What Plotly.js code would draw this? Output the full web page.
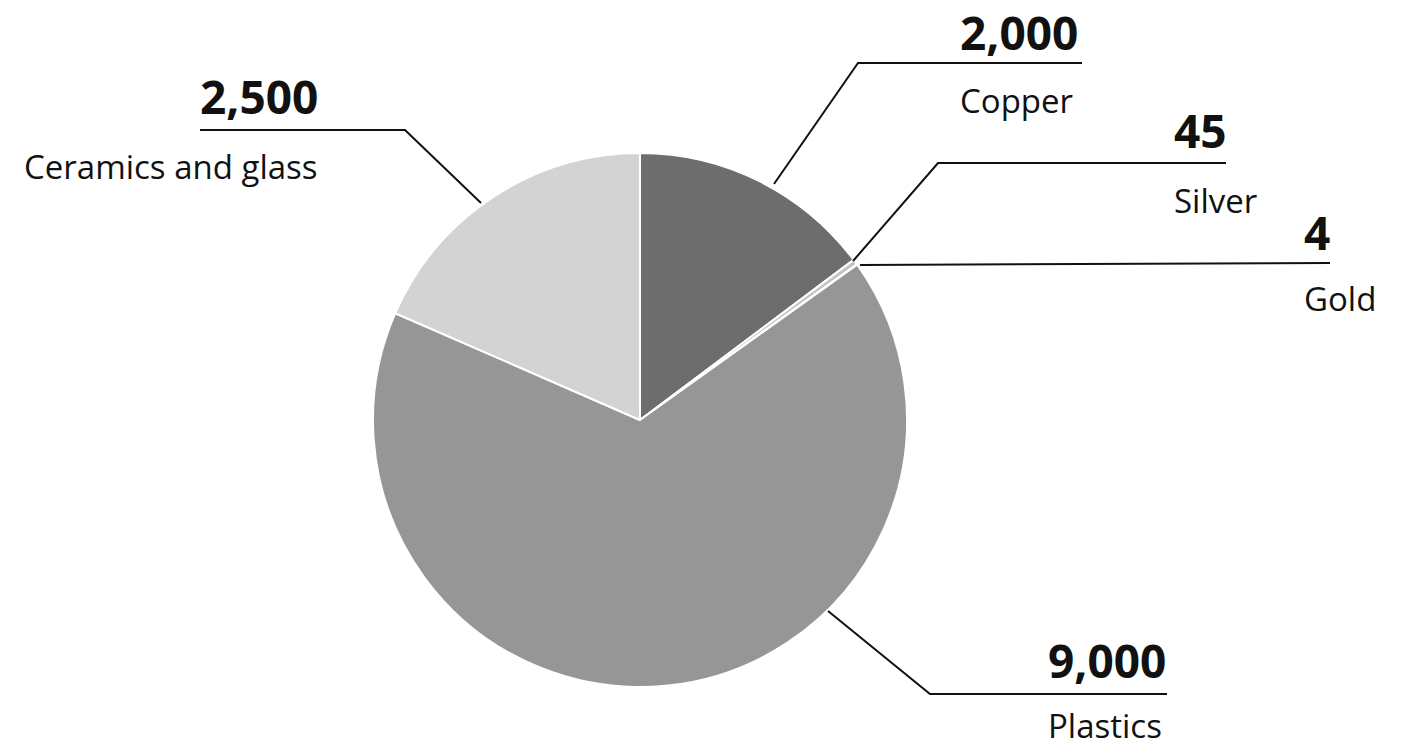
<!DOCTYPE html>
<html>
<head>
<meta charset="utf-8">
<script src="https://cdn.plot.ly/plotly-3.0.1.min.js"></script>
<style>html,body{margin:0;padding:0;background:#fff;}#chart{width:1409px;height:747px;}</style>
</head>
<body>
<div id="chart"></div>
<script>
// Data
const categories = ["Copper", "Silver", "Gold", "Plastics", "Ceramics and glass"];
const values = [2000, 45, 4, 9000, 2500];
const valueLabels = ["2,000", "45", "4", "9,000", "2,500"];
const sliceColors = ["#6d6d6d", "#c4c4c4", "#b0b0b0", "#969696", "#d3d3d3"];

// Layout helpers (pixel -> paper)
const W = 1409, H = 747;
const px = x => x / W;
const py = y => 1 - y / H;

// Leader line geometry per category (pixels): [start, elbow, end], text anchor x, align, value y, label y
const leaders = [
  {pts: [[774, 184], [858, 63], [1082, 63]], tx: 958, anchor: "left", vy: 32, ly: 100},
  {pts: [[853, 261], [938, 163], [1226, 163]], tx: 1172, anchor: "left", vy: 130, ly: 200},
  {pts: [[860, 265], [1330, 263]], tx: 1302, anchor: "left", vy: 232, ly: 298},
  {pts: [[828, 611], [930, 694], [1167, 694]], tx: 1046, anchor: "left", vy: 660, ly: 725},
  {pts: [[481, 203], [405, 130], [200, 130]], tx: 320, anchor: "right", vy: 96, ly: 166}
];

const shapes = leaders.map(l => ({
  type: "path",
  xref: "paper", yref: "paper",
  path: l.pts.map((p, i) => (i ? "L" : "M") + px(p[0]) + "," + py(p[1])).join(" "),
  line: {color: "#111111", width: 2}
}));

const annotations = [];
leaders.forEach((l, i) => {
  annotations.push({
    xref: "paper", yref: "paper", x: px(l.tx), y: py(l.vy),
    xanchor: l.anchor, yanchor: "middle", showarrow: false,
    text: "<b>" + valueLabels[i] + "</b>",
    font: {family: "Open Sans, sans-serif", size: 46, color: "#111111"}
  });
  annotations.push({
    xref: "paper", yref: "paper", x: px(l.tx), y: py(l.ly),
    xanchor: l.anchor, yanchor: "middle", showarrow: false,
    text: categories[i],
    font: {family: "Open Sans, sans-serif", size: 33, color: "#111111"}
  });
});

const trace = {
  type: "pie",
  labels: categories,
  values: values,
  sort: false,
  direction: "clockwise",
  rotation: 0,
  textinfo: "none",
  hoverinfo: "none",
  showlegend: false,
  marker: {colors: sliceColors, line: {color: "#ffffff", width: 2}},
  domain: {x: [px(373), px(907)], y: [py(687), py(153)]}
};

const layout = {
  width: W, height: H,
  margin: {l: 0, r: 0, t: 0, b: 0},
  paper_bgcolor: "#ffffff",
  plot_bgcolor: "#ffffff",
  showlegend: false,
  shapes: shapes,
  annotations: annotations
};

Plotly.newPlot("chart", [trace], layout, {displayModeBar: false, staticPlot: true});
</script>
</body>
</html>
